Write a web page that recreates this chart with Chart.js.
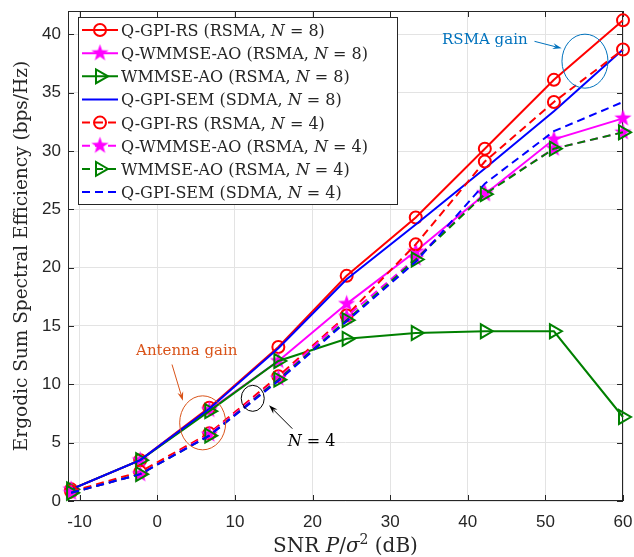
<!DOCTYPE html>
<html>
<head>
<meta charset="utf-8">
<script src="https://cdn.jsdelivr.net/npm/chart.js@4.4.0/dist/chart.umd.min.js"></script>
<style>
  html, body { margin: 0; padding: 0; background: #fff; }
</style>
</head>
<body>
<canvas id="chart" width="634" height="557"></canvas>
<script>
// SNR points (dB)
const snrDb = [-11.1, -2.2, 6.7, 15.6, 24.4, 33.3, 42.2, 51.1, 60];

// ergodic sum spectral efficiency (bps/Hz)
const gpiRsN8   = [1.0, 3.5, 8.0, 13.2, 19.3, 24.3, 30.2, 36.1, 41.2];
const qWmmseN8  = [1.0, 3.5, 7.8, 12.0, 16.9, 21.4, 26.3, 31.0, 32.8];
const wmmseN8   = [1.0, 3.5, 7.7, 12.0, 13.9, 14.4, 14.55, 14.55, 7.2];
const gpiSemN8  = [1.0, 3.5, 7.9, 13.1, 19.0, 23.7, 28.5, 33.4, 38.7];
const gpiRsN4   = [0.8, 2.5, 5.8, 10.7, 15.9, 22.0, 29.1, 34.2, 38.7];
const qWmmseN4  = [0.7, 2.3, 5.7, 10.5, 15.8, 20.8, 26.4, 30.2, 31.6];
const wmmseN4   = [0.7, 2.3, 5.6, 10.4, 15.5, 20.7, 26.3, 30.2, 31.6];
const gpiSemN4  = [0.7, 2.3, 5.6, 10.3, 15.4, 20.5, 27.2, 31.7, 34.2];

const xTicks = [-10, 0, 10, 20, 30, 40, 50, 60];
const yTicks = [0, 5, 10, 15, 20, 25, 30, 35, 40];

const serif = '"DejaVu Serif", "Liberation Serif", serif';
const sans = '"Liberation Sans", Arial, sans-serif';
const axisColor = '#262626';

// pentagram marker (Chart.js star is an asterisk)
function makeStar(color, size) {
  const c = document.createElement('canvas');
  c.width = c.height = size;
  const g = c.getContext('2d');
  const R = size / 2 - 0.5, r = R * 0.4;
  g.beginPath();
  for (let i = 0; i < 10; i++) {
    const a = -Math.PI / 2 + i * Math.PI / 5;
    const rr = i % 2 ? r : R;
    g.lineTo(size / 2 + rr * Math.cos(a), size / 2 + rr * Math.sin(a));
  }
  g.closePath();
  g.fillStyle = color;
  g.fill();
  return c;
}
const starImg = makeStar('#ff00ff', 19);

const series = [
  { name: 'Q-GPI-RS',    scheme: 'RSMA', n: 8, data: gpiRsN8,  color: '#ff0000', dash: [],     marker: 'circle' },
  { name: 'Q-WMMSE-AO',  scheme: 'RSMA', n: 8, data: qWmmseN8, color: '#ff00ff', dash: [],     marker: 'star' },
  { name: 'WMMSE-AO',    scheme: 'RSMA', n: 8, data: wmmseN8,  color: '#008000', dash: [],     marker: 'tri' },
  { name: 'Q-GPI-SEM',   scheme: 'SDMA', n: 8, data: gpiSemN8, color: '#0000ff', dash: [],     marker: null },
  { name: 'Q-GPI-RS',    scheme: 'RSMA', n: 4, data: gpiRsN4,  color: '#ff0000', dash: [8, 5], marker: 'circle' },
  { name: 'Q-WMMSE-AO',  scheme: 'RSMA', n: 4, data: qWmmseN4, color: '#ff00ff', dash: [8, 5], marker: 'star' },
  { name: 'WMMSE-AO',    scheme: 'RSMA', n: 4, data: wmmseN4,  color: '#008000', dash: [8, 5], marker: 'tri' },
  { name: 'Q-GPI-SEM',   scheme: 'SDMA', n: 4, data: gpiSemN4, color: '#0000ff', dash: [8, 5], marker: null }
];

function markerStyle(m) {
  if (m === 'circle') return { pointStyle: 'circle', pointRadius: 6, pointRotation: 0 };
  if (m === 'star') return { pointStyle: starImg, pointRadius: 9, pointRotation: 0 };
  if (m === 'tri') return { pointStyle: 'triangle', pointRadius: 8, pointRotation: 90 };
  return { pointStyle: false, pointRadius: 0, pointRotation: 0 };
}

const datasets = series.map((s, i) => Object.assign({
  label: `${s.name} (${s.scheme}, N = ${s.n})`,
  data: snrDb.map((x, j) => ({ x: x, y: s.data[j] })),
  borderColor: s.color,
  borderWidth: 2,
  borderDash: s.dash,
  pointBorderColor: s.color,
  pointBackgroundColor: 'rgba(0,0,0,0)',
  pointBorderWidth: 2,
  pointHoverRadius: 0,
  tension: 0,
  fill: false,
  clip: false,
  order: series.length - i
}, markerStyle(s.marker)));

// text with italic / superscript pieces
function drawRuns(ctx, runs, x, y, size, align) {
  const fontOf = r => `${r.italic ? 'italic ' : ''}${r.sup ? Math.round(size * 0.7) : size}px ${serif}`;
  let total = 0;
  runs.forEach(r => { ctx.font = fontOf(r); total += ctx.measureText(r.t).width; });
  let cx = align === 'center' ? x - total / 2 : x;
  ctx.textAlign = 'left';
  runs.forEach(r => {
    ctx.font = fontOf(r);
    ctx.fillText(r.t, cx, r.sup ? y - size * 0.4 : y);
    cx += ctx.measureText(r.t).width;
  });
}

function arrow(ctx, x1, y1, x2, y2, color) {
  const a = Math.atan2(y2 - y1, x2 - x1);
  ctx.strokeStyle = color;
  ctx.fillStyle = color;
  ctx.lineWidth = 1;
  ctx.beginPath();
  ctx.moveTo(x1, y1);
  ctx.lineTo(x2 - 6 * Math.cos(a), y2 - 6 * Math.sin(a));
  ctx.stroke();
  ctx.beginPath();
  ctx.moveTo(x2, y2);
  ctx.lineTo(x2 - 9 * Math.cos(a) + 3 * Math.sin(a), y2 - 9 * Math.sin(a) - 3 * Math.cos(a));
  ctx.lineTo(x2 - 6 * Math.cos(a), y2 - 6 * Math.sin(a));
  ctx.lineTo(x2 - 9 * Math.cos(a) - 3 * Math.sin(a), y2 - 9 * Math.sin(a) + 3 * Math.cos(a));
  ctx.closePath();
  ctx.fill();
}

function legendMarker(ctx, s, x, y) {
  ctx.save();
  ctx.setLineDash([]);
  ctx.strokeStyle = s.color;
  ctx.lineWidth = 2;
  if (s.marker === 'circle') {
    ctx.beginPath();
    ctx.arc(x, y, 6, 0, Math.PI * 2);
    ctx.stroke();
  } else if (s.marker === 'star') {
    ctx.drawImage(starImg, x - starImg.width / 2, y - starImg.height / 2);
  } else if (s.marker === 'tri') {
    ctx.beginPath();
    for (let k = 0; k < 3; k++) {
      const a = k * 2 * Math.PI / 3;
      ctx.lineTo(x + 8 * Math.cos(a), y + 8 * Math.sin(a));
    }
    ctx.closePath();
    ctx.stroke();
  }
  ctx.restore();
}

const decorPlugin = {
  id: 'decor',
  beforeDatasetsDraw(chart) {
    const { ctx, chartArea: a, scales } = chart;
    ctx.save();
    ctx.strokeStyle = axisColor;
    ctx.lineWidth = 1;
    ctx.strokeRect(Math.round(a.left) + 0.5, Math.round(a.top) + 0.5,
      Math.round(a.right - a.left) - 1, Math.round(a.bottom - a.top) - 1);
    ctx.beginPath();
    xTicks.forEach(v => {
      const px = Math.round(scales.x.getPixelForValue(v)) + 0.5;
      ctx.moveTo(px, a.bottom); ctx.lineTo(px, a.bottom - 6);
      ctx.moveTo(px, a.top); ctx.lineTo(px, a.top + 6);
    });
    yTicks.forEach(v => {
      const py = Math.round(scales.y.getPixelForValue(v)) + 0.5;
      ctx.moveTo(a.left, py); ctx.lineTo(a.left + 6, py);
      ctx.moveTo(a.right, py); ctx.lineTo(a.right - 6, py);
    });
    ctx.stroke();
    ctx.restore();
  },
  afterDraw(chart) {
    const { ctx, chartArea: a, scales } = chart;
    const X = v => scales.x.getPixelForValue(v);
    const Y = v => scales.y.getPixelForValue(v);
    ctx.save();
    ctx.textBaseline = 'alphabetic';
    ctx.fillStyle = axisColor;

    // axis titles
    drawRuns(ctx, [{ t: 'SNR ' }, { t: 'P', italic: true }, { t: '/' }, { t: 'σ', italic: true },
      { t: '2', sup: true }, { t: ' (dB)' }], (a.left + a.right) / 2, 552, 20, 'center');
    ctx.save();
    ctx.translate(27, (a.top + a.bottom) / 2);
    ctx.rotate(-Math.PI / 2);
    drawRuns(ctx, [{ t: 'Ergodic Sum Spectral Efficiency (bps/Hz)' }], 0, 0, 18.5, 'center');
    ctx.restore();

    // annotations: RSMA gain
    const blueAnn = '#0072bd';
    ctx.strokeStyle = blueAnn;
    ctx.lineWidth = 1;
    ctx.beginPath();
    ctx.ellipse(X(55.1), Y(37.7), 23, 27, 0, 0, Math.PI * 2);
    ctx.stroke();
    arrow(ctx, X(48.6), Y(39.4), X(52.1), Y(38.8), blueAnn);
    ctx.fillStyle = blueAnn;
    drawRuns(ctx, [{ t: 'RSMA gain' }], X(42.2), Y(39.5) + 4, 15, 'center');

    // annotations: Antenna gain
    const orangeAnn = '#d95319';
    ctx.strokeStyle = orangeAnn;
    ctx.beginPath();
    ctx.ellipse(X(5.85), Y(6.7), 23, 27, 0, 0, Math.PI * 2);
    ctx.stroke();
    arrow(ctx, X(1.9), Y(11.7), X(3.3), Y(8.6), orangeAnn);
    ctx.fillStyle = orangeAnn;
    drawRuns(ctx, [{ t: 'Antenna gain' }], X(3.8), Y(12.9) + 4, 15, 'center');

    // annotations: N = 4
    ctx.strokeStyle = '#000';
    ctx.beginPath();
    ctx.ellipse(X(12.3), Y(8.8), 11.5, 13, 0, 0, Math.PI * 2);
    ctx.stroke();
    arrow(ctx, X(17.4), Y(6.2), X(14.4), Y(8.2), '#000');
    ctx.fillStyle = '#000';
    drawRuns(ctx, [{ t: 'N', italic: true }, { t: ' = 4' }], X(16.8), Y(5.2) + 6, 16, 'left');

    // legend
    const lx = 78, ly = 17, lw = 319, lh = 187;
    ctx.fillStyle = '#fff';
    ctx.fillRect(lx, ly, lw, lh);
    ctx.strokeStyle = axisColor;
    ctx.lineWidth = 1;
    ctx.strokeRect(lx + 0.5, ly + 0.5, lw, lh);
    series.forEach((s, i) => {
      const cy = 30 + i * 23.15;
      ctx.save();
      ctx.strokeStyle = s.color;
      ctx.lineWidth = 2;
      ctx.setLineDash(s.dash);
      ctx.beginPath();
      ctx.moveTo(82, cy);
      ctx.lineTo(118, cy);
      ctx.stroke();
      ctx.restore();
      legendMarker(ctx, s, 100, cy);
      ctx.fillStyle = axisColor;
      drawRuns(ctx, [{ t: `${s.name} (${s.scheme}, ` }, { t: 'N', italic: true }, { t: ` = ${s.n})` }],
        121, cy + 6, 16, 'left');
    });
    ctx.restore();
  }
};

new Chart(document.getElementById('chart'), {
  type: 'line',
  data: { datasets: datasets },
  options: {
    responsive: false,
    animation: false,
    events: [],
    layout: { padding: { top: 7, right: 10, left: 0, bottom: 0 } },
    plugins: { legend: { display: false }, tooltip: { enabled: false } },
    scales: {
      x: {
        type: 'linear',
        min: -11.5,
        max: 60,
        afterBuildTicks: s => { s.ticks = xTicks.map(v => ({ value: v })); },
        afterFit: s => { s.height = 56; s.paddingLeft = 0; s.paddingRight = 0; },
        grid: { color: '#e3e3e3', drawTicks: false },
        border: { display: false },
        ticks: { font: { family: sans, size: 17 }, color: axisColor, padding: 11, maxRotation: 0 }
      },
      y: {
        type: 'linear',
        min: 0,
        max: 42,
        afterBuildTicks: s => { s.ticks = yTicks.map(v => ({ value: v })); },
        afterFit: s => { s.width = 68; s.paddingTop = 0; s.paddingBottom = 0; },
        grid: { color: '#e3e3e3', drawTicks: false },
        border: { display: false },
        ticks: { font: { family: sans, size: 17 }, color: axisColor, padding: 7 }
      }
    }
  },
  plugins: [decorPlugin]
});
</script>
</body>
</html>
